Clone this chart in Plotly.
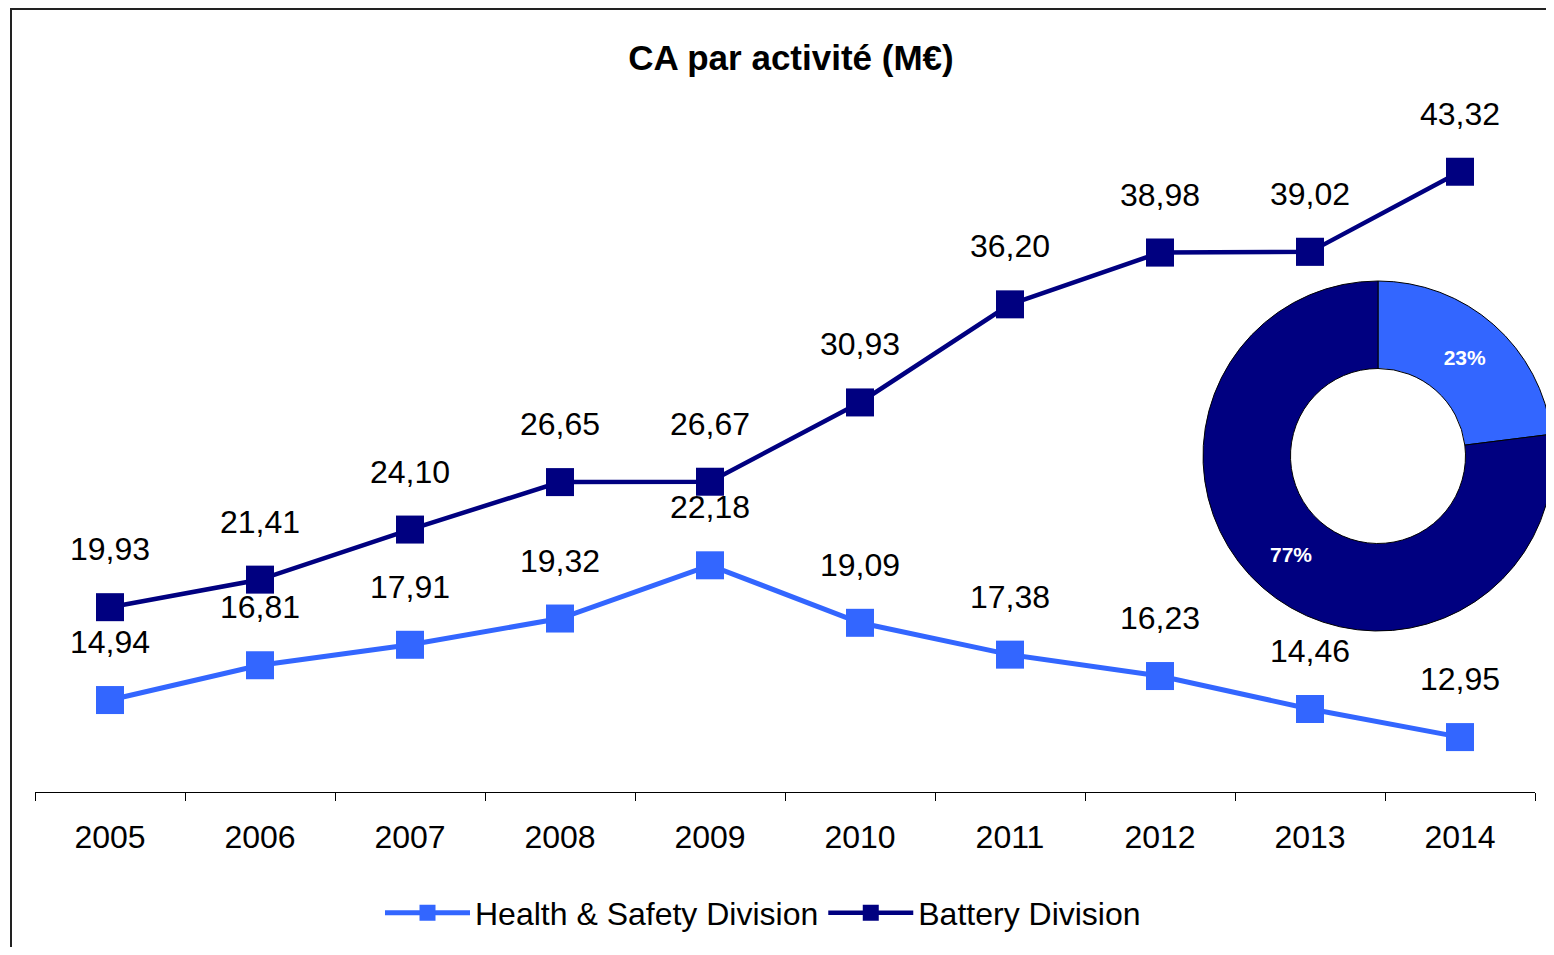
import plotly.graph_objects as go

# données (CA en M€)
years = ["2005", "2006", "2007", "2008", "2009", "2010", "2011", "2012", "2013", "2014"]
health = [14.94, 16.81, 17.91, 19.32, 22.18, 19.09, 17.38, 16.23, 14.46, 12.95]
battery = [19.93, 21.41, 24.10, 26.65, 26.67, 30.93, 36.20, 38.98, 39.02, 43.32]

C_HEALTH = "#3366FF"
C_BATTERY = "#000080"
FONT = "Liberation Sans, Arial, sans-serif"

# la page ajoute 8px de marge autour du graphique
OFF = 8
W, H = 1554 - OFF, 955 - 2 * OFF


def px(x):
    return (x - OFF) / W


def py(y):
    return 1 - (y - OFF) / H


def fmt(v):
    return f"{v:.2f}".replace(".", ",")


fig = go.Figure()

fig.add_trace(go.Scatter(
    x=years, y=health, mode="lines+markers", name="Health & Safety Division",
    line=dict(color=C_HEALTH, width=5),
    marker=dict(symbol="square", size=28, color=C_HEALTH),
))
fig.add_trace(go.Scatter(
    x=years, y=battery, mode="lines+markers", name="Battery Division",
    line=dict(color=C_BATTERY, width=4.5),
    marker=dict(symbol="square", size=28, color=C_BATTERY),
))

# donut : répartition 2014
fig.add_trace(go.Pie(
    labels=["Health & Safety Division", "Battery Division"],
    values=[health[-1], battery[-1]],
    hole=0.5, sort=False, direction="clockwise", rotation=0,
    marker=dict(colors=[C_HEALTH, C_BATTERY], line=dict(color="black", width=1)),
    texttemplate="%{percent:.0%}", textposition="inside",
    insidetextorientation="horizontal",
    textfont=dict(color="white", size=21, family=FONT, weight="bold"),
    domain=dict(x=[px(1203), px(1553)], y=[py(631), py(281)]),
    showlegend=False,
))

# étiquettes de données (x = index de catégorie)
annotations = []
for serie in (health, battery):
    for i, v in enumerate(serie):
        annotations.append(dict(
            x=i, y=v, xref="x", yref="y", text=fmt(v), showarrow=False,
            yshift=58, font=dict(size=32, color="black", family=FONT),
        ))

fig.update_layout(
    width=W, height=H,
    margin=dict(l=0, r=0, t=0, b=0),
    paper_bgcolor="white", plot_bgcolor="white",
    font=dict(family=FONT, color="black"),
    title=dict(
        text="<b>CA par activité (M€)</b>", x=px(791), xanchor="center",
        y=py(58), yref="container", yanchor="middle",
        font=dict(size=35, family=FONT, color="black"),
    ),
    xaxis=dict(
        domain=[px(35), px(1535)], type="category", range=[-0.5, 9.5],
        showline=True, linecolor="black", linewidth=1,
        ticks="outside", tickson="boundaries", ticklen=8, tickcolor="black",
        tickfont=dict(size=32, family=FONT), ticklabelstandoff=17,
        showgrid=False, zeroline=False,
    ),
    yaxis=dict(
        domain=[py(792), py(47.5)], range=[10, 50],
        visible=False, showgrid=False, zeroline=False,
    ),
    legend=dict(
        orientation="h", x=px(763), xanchor="center", y=py(913), yanchor="middle",
        font=dict(size=32, family=FONT), itemwidth=85, bgcolor="rgba(0,0,0,0)",
    ),
    annotations=annotations,
    shapes=[dict(
        type="rect", xref="paper", yref="paper",
        x0=px(11), x1=1.02, y0=-0.02, y1=py(9),
        line=dict(color="#222222", width=2), layer="below",
    )],
)

fig.write_html("out.html")
